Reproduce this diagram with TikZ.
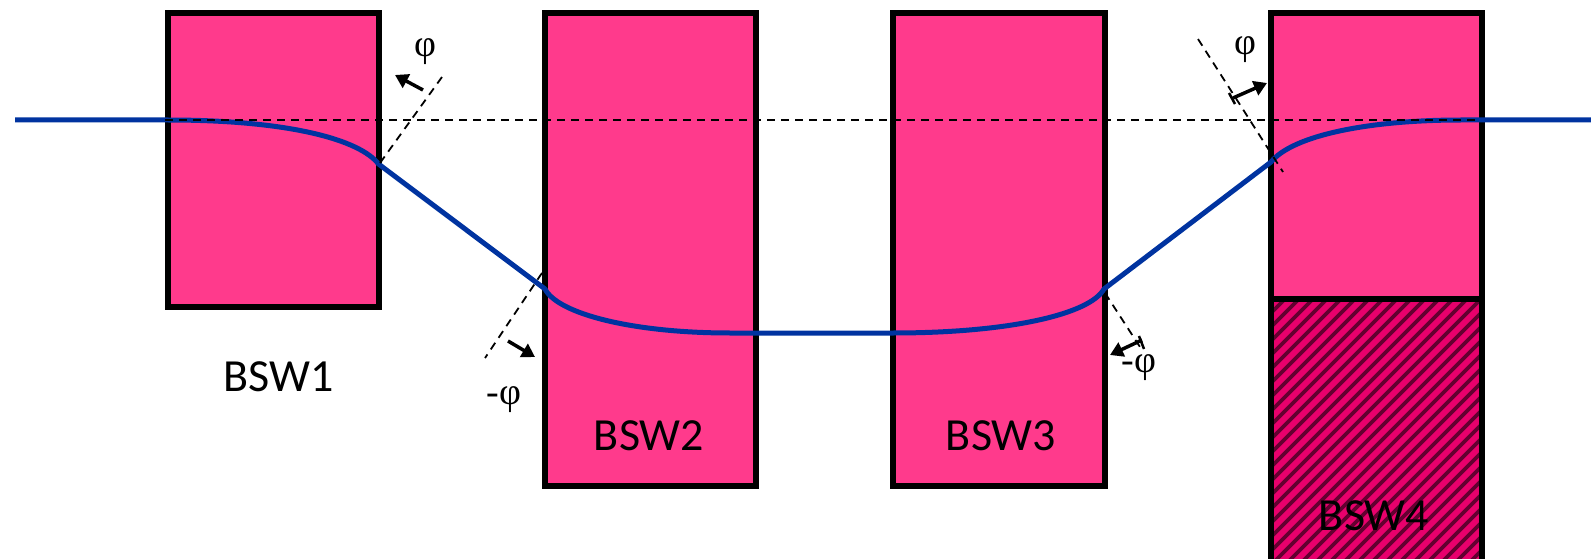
\documentclass[tikz,border=0pt]{standalone}
\usepackage{fontspec}
\setmainfont{Carlito}
\newfontfamily\phifont{Liberation Serif}
\usetikzlibrary{arrows.meta}
\definecolor{bswpink}{RGB}{255,58,140}
\definecolor{bswdark}{RGB}{232,0,108}
\definecolor{stripecol}{RGB}{100,0,48}
\definecolor{beam}{RGB}{0,51,160}
\begin{document}
\begin{tikzpicture}[x=1pt,y=-1pt,
  box/.style={draw=black, line width=6pt, fill=bswpink, inner sep=0pt, outer sep=0pt, anchor=north west},
  guide/.style={draw=black, line width=1.8pt, dash pattern=on 8pt off 6pt},
  tilt/.style={draw=black, line width=3.5pt, -{Triangle[length=13pt,width=15pt]}},
  lab/.style={font=\fontsize{46}{54}\selectfont, inner sep=0pt},
  phil/.style={font=\phifont\fontsize{38}{44}\selectfont, inner sep=0pt},
  ray/.style={draw=beam, line width=5pt, line join=round}]
\useasboundingbox (0,0) rectangle (1591,559);
% boxes
\node[box, minimum width=210.5pt, minimum height=293.5pt] (b1) at (168,13) {};
\node[box, minimum width=211pt, minimum height=473pt] (b2) at (545,13) {};
\node[box, minimum width=212pt, minimum height=473pt] (b3) at (892.5,13) {};
\node[box, minimum width=211.5pt, minimum height=286pt] (b4) at (1270.5,13) {};
\node[box, fill=bswdark, minimum width=211.5pt, minimum height=290pt] (b4h) at (1270.5,299) {};
\begin{scope}
  \clip (b4h.north west) rectangle (b4h.south east);
  \foreach \i in {0,...,45} {
    \draw[stripecol, line width=3.6pt] (950+\i*14,620) -- ++(340,-340);
  }
\end{scope}
\draw[black, line width=6pt] (b4h.north west) rectangle (b4h.south east);
% beam
\coordinate (s) at (15,120);
\coordinate (p1) at (168,120);
\coordinate (p2) at (378.5,164);
\coordinate (p3) at (545,289);
\coordinate (p4) at (730,333);
\coordinate (p5) at (893,333);
\coordinate (p6) at (1104,289);
\coordinate (p7) at (1271,162);
\coordinate (p8) at (1461,120);
\coordinate (e) at (1591,120);
\draw[ray] (s) -- (p1) .. controls (290,120) and (360,140) .. (p2) -- (p3)
  .. controls (558,314) and (633,333) .. (p4) -- (p5)
  .. controls (1010,333) and (1090,314) .. (p6) -- (p7)
  .. controls (1293,135) and (1370,120) .. (p8) -- (e);
% guides
\coordinate (h1) at (165,120);
\coordinate (h2) at (1480,120);
\draw[guide] (h1) -- (h2);
\coordinate (n1a) at (380,163); \coordinate (n1b) at (442,77);
\coordinate (n2a) at (542,273); \coordinate (n2b) at (485,358);
\coordinate (n3a) at (1105,293); \coordinate (n3b) at (1140,347);
\coordinate (n4a) at (1198,39); \coordinate (n4b) at (1283,172);
\draw[guide] (n1a) -- (n1b);
\draw[guide] (n2a) -- (n2b);
\draw[guide] (n3a) -- (n3b);
\draw[guide] (n4a) -- (n4b);
% tilt arrows
\coordinate (a1s) at (423,90); \coordinate (a1e) at (395,75);
\coordinate (a2s) at (508,341); \coordinate (a2e) at (535,357);
\coordinate (a3s) at (1142,340); \coordinate (a3e) at (1110,355);
\coordinate (a4s) at (1233,98); \coordinate (a4e) at (1267,83);
\draw[tilt] (a1s) -- (a1e);
\draw[tilt] (a2s) -- (a2e);
\draw[tilt] (a3s) -- (a3e);
\draw[tilt] (a4s) -- (a4e);
\coordinate (t3a) at (1139,336); \coordinate (t3b) at (1144,349);
\coordinate (t4a) at (1229,93); \coordinate (t4b) at (1235,104);
\draw[black, line width=2.5pt] (t3a) -- (t3b);
\draw[black, line width=2.5pt] (t4a) -- (t4b);
% labels
\node[lab] (l1) at (279,377) {BSW1};
\node[lab] (l2) at (649,436) {BSW2};
\node[lab] (l3) at (1001,436) {BSW3};
\node[lab] (l4) at (1374,516) {BSW4};
\node[phil] (f1) at (425,52) {φ};
\node[phil] (f2) at (504,400) {-φ};
\node[phil] (f3) at (1139,368) {-φ};
\node[phil] (f4) at (1245,50) {φ};
\end{tikzpicture}
\end{document}
